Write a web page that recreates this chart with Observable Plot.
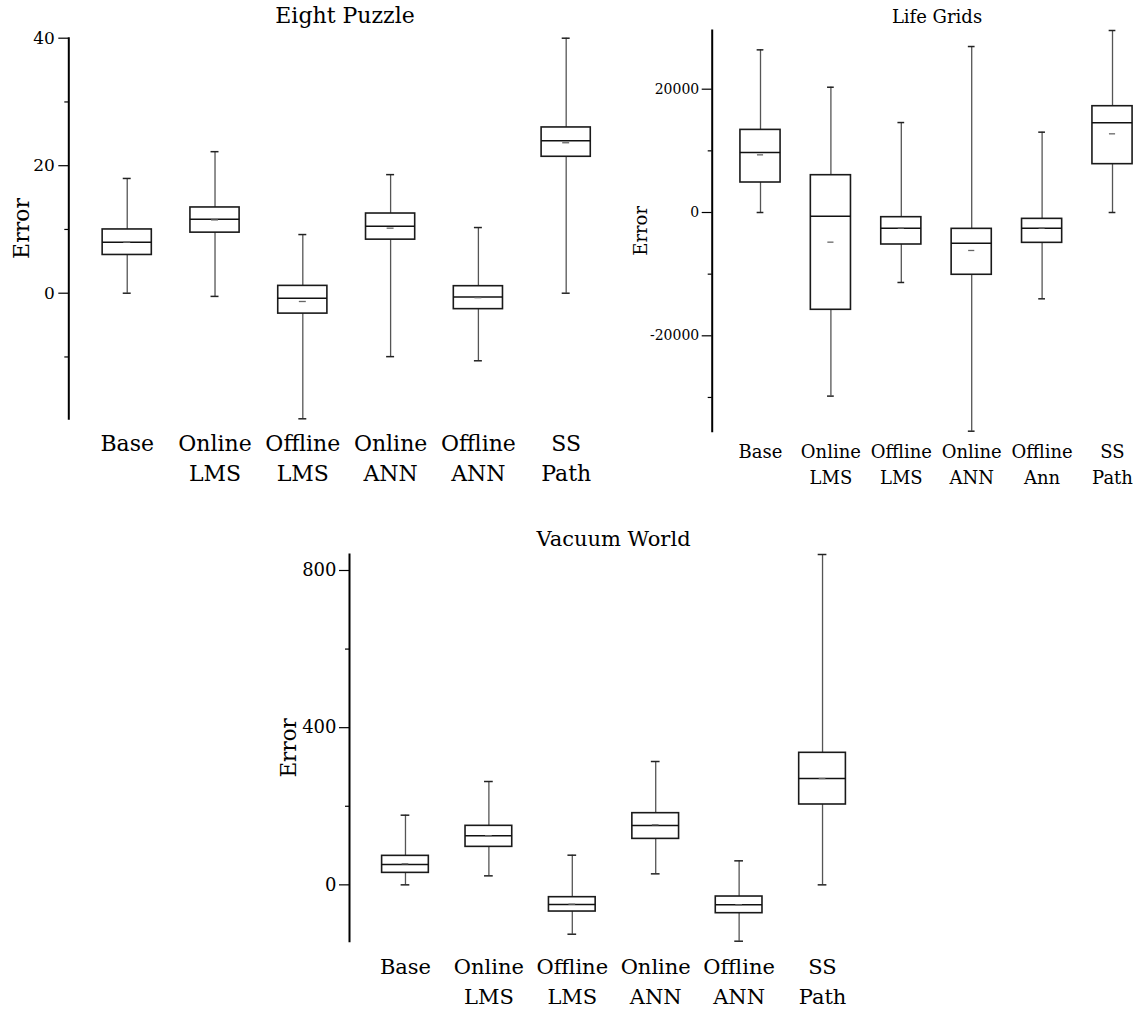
<!DOCTYPE html>
<html>
<head>
<meta charset="utf-8">
<script src="https://cdn.jsdelivr.net/npm/d3@7"></script>
<script src="https://cdn.jsdelivr.net/npm/@observablehq/plot@0.6"></script>
<style>
  html, body { margin: 0; padding: 0; background: #fff; width: 1146px; height: 1011px; overflow: hidden; }
  .panel { position: absolute; }
  .title { position: absolute; white-space: nowrap; transform: translateX(-50%); line-height: 1; color: #000; font-family: "DejaVu Serif", serif; }
</style>
</head>
<body>
<script>
// ---------- Eight Puzzle ----------
const eightCategories = ["Base", "Online LMS", "Offline LMS", "Online ANN", "Offline ANN", "SS Path"];
const eightLabels = ["Base", "Online\nLMS", "Offline\nLMS", "Online\nANN", "Offline\nANN", "SS\nPath"];
const eightLow    = [0, -0.5, -19.7, -9.95, -10.6, 0];
const eightQ1     = [6.0, 9.5, -3.2, 8.4, -2.5, 21.4];
const eightMedian = [8.0, 11.6, -0.8, 10.5, -0.6, 23.9];
const eightQ3     = [10.0, 13.45, 1.15, 12.5, 1.1, 26.0];
const eightHigh   = [18.0, 22.2, 9.2, 18.6, 10.3, 40];
const eightMean   = [8.0, 11.5, -1.3, 10.2, -0.7, 23.6];
const eightMajorTicks = [0, 20, 40];
const eightMinorTicks = [-10, 10, 30];

// ---------- Life Grids ----------
const lifeCategories = ["Base", "Online LMS", "Offline LMS", "Online ANN", "Offline Ann", "SS Path"];
const lifeLabels = ["Base", "Online\nLMS", "Offline\nLMS", "Online\nANN", "Offline\nAnn", "SS\nPath"];
const lifeLow    = [0, -29780, -11350, -35470, -14000, 0];
const lifeQ1     = [4865, -15780, -5190, -10100, -4920, 7840];
const lifeMedian = [9730, -600, -2540, -4970, -2540, 14540];
const lifeQ3     = [13400, 6050, -760, -2650, -1030, 17240];
const lifeHigh   = [26380, 20320, 14590, 26920, 13030, 29520];
const lifeMean   = [9350, -4810, -2540, -6160, -2540, 12760];
const lifeMajorTicks = [-20000, 0, 20000];
const lifeMinorTicks = [-30000, -10000, 10000];

// ---------- Vacuum World ----------
const vacCategories = ["Base", "Online LMS", "Offline LMS", "Online ANN", "Offline ANN", "SS Path"];
const vacLabels = ["Base", "Online\nLMS", "Offline\nLMS", "Online\nANN", "Offline\nANN", "SS\nPath"];
const vacLow    = [0, 22.9, -125.6, 28, -143.4, 0];
const vacQ1     = [30.5, 96.7, -67.9, 117, -72.1, 204.5];
const vacMedian = [51.8, 124.7, -50, 151, -50.9, 270.6];
const vacQ3     = [73.8, 150.2, -31.4, 182.4, -29.7, 336];
const vacHigh   = [177.3, 263, 75.5, 313.9, 61.1, 840.7];
const vacMean   = [53.5, 125, -49.2, 152.7, -50.9, 270.6];
const vacMajorTicks = [0, 400, 800];
const vacMinorTicks = [200, 600];

const FONT = '"DejaVu Serif", serif';

function boxPanel(d, L) {
  const rows = d.cats.map((c, i) => ({
    cat: c, lo: d.lo[i], q1: d.q1[i], med: d.med[i], q3: d.q3[i], hi: d.hi[i], mean: d.mean[i]
  }));
  const ext = [d3.min(d.lo), d3.max(d.hi)];
  return Plot.plot({
    width: L.width, height: L.height,
    marginLeft: L.ml, marginRight: L.mr, marginTop: L.mt, marginBottom: L.mb,
    style: { background: "transparent", fontFamily: FONT, color: "#000", maxWidth: "none", overflow: "visible" },
    x: { type: "band", domain: d.cats, paddingInner: L.pi, paddingOuter: L.po, align: L.align, round: false, label: null },
    y: { domain: ext, label: null },
    marks: [
      Plot.ruleX(rows, { x: "cat", y1: "lo", y2: "hi", stroke: "#555", strokeWidth: 1.3 }),
      Plot.tickY(rows, { x: "cat", y: "lo", stroke: "#222", strokeWidth: 1.5, inset: L.capInset }),
      Plot.tickY(rows, { x: "cat", y: "hi", stroke: "#222", strokeWidth: 1.5, inset: L.capInset }),
      Plot.barY(rows, { x: "cat", y1: "q1", y2: "q3", fill: "white", stroke: "#1a1a1a", strokeWidth: 1.6 }),
      Plot.tickY(rows, { x: "cat", y: "med", stroke: "#111", strokeWidth: 1.5 }),
      Plot.tickY(rows, { x: "cat", y: "mean", stroke: "#666", strokeWidth: 1.3, inset: L.meanInset }),
      Plot.axisY({ ticks: d.major, tickSize: L.tick, tickPadding: L.tickPad, fontSize: L.yfs,
                   tickFormat: v => String(v), label: null, strokeWidth: 1.2 }),
      Plot.axisY({ ticks: d.minor, tickSize: 4, tickFormat: () => "", label: null, strokeWidth: 1.2 }),
      Plot.frame({ anchor: "left", strokeWidth: 2, stroke: "#000" }),
      Plot.axisX({ tickSize: 0, tickPadding: L.xpad, fontSize: L.xfs, lineHeight: L.lh,
                   tickFormat: c => d.labels[d.cats.indexOf(c)], label: null }),
      Plot.text(["Error"], { frameAnchor: "left", rotate: -90, dx: L.ylabDx, fontSize: L.ylfs,
                             textAnchor: "middle", lineAnchor: "middle", fill: "#000" })
    ]
  });
}

function place(node, left, top, width, height) {
  const div = document.createElement("div");
  div.className = "panel";
  div.style.left = left + "px";
  div.style.top = top + "px";
  div.style.width = width + "px";
  div.style.height = height + "px";
  div.appendChild(node);
  document.body.appendChild(div);
}

function title(text, cx, top, size) {
  const t = document.createElement("div");
  t.className = "title";
  t.textContent = text;
  t.style.left = cx + "px";
  t.style.top = top + "px";
  t.style.fontSize = size + "px";
  document.body.appendChild(t);
}

const eightL = { width: 640, height: 498.3, ml: 68.3, mr: 10, mt: 37.7, mb: 80,
  pi: 0.44, po: 0.419, align: 0.46, capInset: 20.6, meanInset: 21.1,
  tick: 10, tickPad: 4, yfs: 17, xfs: 22, lh: 1.33, xpad: 11.8, ylfs: 22, ylabDx: -46.7 };
place(boxPanel({ cats: eightCategories, labels: eightLabels, lo: eightLow, q1: eightQ1, med: eightMedian,
  q3: eightQ3, hi: eightHigh, mean: eightMean, major: eightMajorTicks, minor: eightMinorTicks }, eightL),
  0, 0, eightL.width, eightL.height);

const lifeL = { width: 546, height: 500.7, ml: 111.7, mr: 4, mt: 30, mb: 70,
  pi: 0.43, po: 0.271, align: 0.74, capInset: 16.7, meanInset: 17,
  tick: 10, tickPad: 3, yfs: 14, xfs: 18, lh: 1.45, xpad: 8.5, ylfs: 18, ylabDx: -71.2 };
place(boxPanel({ cats: lifeCategories, labels: lifeLabels, lo: lifeLow, q1: lifeQ1, med: lifeMedian,
  q3: lifeQ3, hi: lifeHigh, mean: lifeMean, major: lifeMajorTicks, minor: lifeMinorTicks }, lifeL),
  600, 0, lifeL.width, lifeL.height);

const vacL = { width: 640, height: 490, ml: 109, mr: 10, mt: 34, mb: 69.3,
  pi: 0.44, po: 0.343, align: 0.57, capInset: 19, meanInset: 20,
  tick: 10, tickPad: 3, yfs: 18, xfs: 21, lh: 1.43, xpad: 11.4, ylfs: 21.5, ylabDx: -60 };
place(boxPanel({ cats: vacCategories, labels: vacLabels, lo: vacLow, q1: vacQ1, med: vacMedian,
  q3: vacQ3, hi: vacHigh, mean: vacMean, major: vacMajorTicks, minor: vacMinorTicks }, vacL),
  240, 520, vacL.width, vacL.height);

title("Eight Puzzle", 345, 4.5, 22);
title("Life Grids", 937, 8, 18);
title("Vacuum World", 613.5, 529, 21);
</script>
</body>
</html>
